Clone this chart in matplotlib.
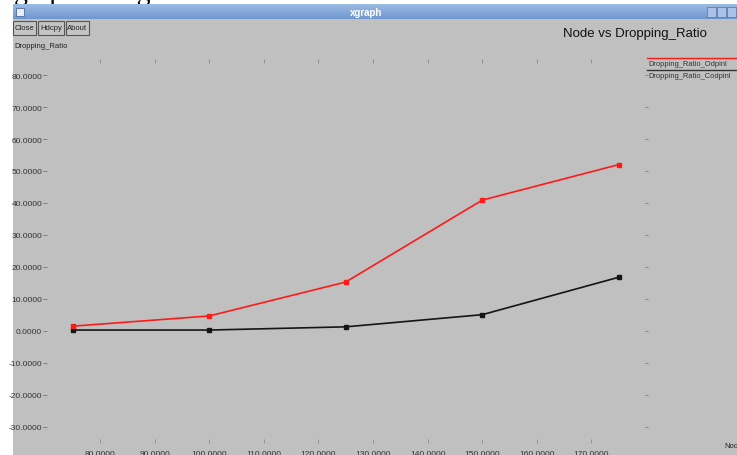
import matplotlib
matplotlib.use("Agg")
import matplotlib.pyplot as plt
from matplotlib.patches import Rectangle
from matplotlib.lines import Line2D
import numpy as np

# ---- data ----
nodes = [75, 100, 125, 150, 175]
ratio_odpinl = [1.5, 4.7, 15.3, 40.9, 52.0]
ratio_codpinl = [0.3, 0.3, 1.3, 5.1, 16.8]
series_names = ["Dropping_Ratio_Odpinl", "Dropping_Ratio_Codpinl"]
x_ticks = [80, 90, 100, 110, 120, 130, 140, 150, 160, 170]
y_ticks = [-30, -20, -10, 0, 10, 20, 30, 40, 50, 60, 70, 80]
title = "Node vs Dropping_Ratio"
y_unit = "Dropping_Ratio"
x_unit = "Node"
buttons = ["Close", "Hdcpy", "About"]

W, H = 737, 456
FONT = ["Liberation Sans Narrow", "Liberation Sans", "DejaVu Sans"]
plt.rcParams["font.family"] = FONT

fig = plt.figure(figsize=(W / 100, H / 100), dpi=100)
fig.patch.set_facecolor("white")


def fx(px):
    return px / W


def fy(py):
    return 1 - py / H


# window body
fig.patches.append(Rectangle((fx(13), 0), 1 - fx(13), fy(20), transform=fig.transFigure,
                             facecolor="#c0c0c0", edgecolor="none", zorder=-5))

# caption text of the page, mostly above the visible strip
fig.text(fx(14), fy(0), "graph Using Code Like", family=["Liberation Serif", "DejaVu Serif"],
         fontsize=20, color="black", ha="left", va="baseline", zorder=-6)

# title bar
bar = np.linspace(0, 1, 40).reshape(-1, 1)
bar_ax = fig.add_axes([fx(13), fy(20), 1 - fx(13), fy(5) - fy(20)], zorder=10)
bar_ax.imshow(bar, aspect="auto", cmap=matplotlib.colors.LinearSegmentedColormap.from_list(
    "tb", ["#9dbbe3", "#6f97cf"]), extent=[0, 1, 0, 1], origin="upper")
bar_ax.axis("off")
bar_ax.text(fx(366 - 13) / (1 - fx(13)), 0.5, "xgraph", color="white", fontsize=7,
            fontweight="bold", ha="center", va="center", transform=bar_ax.transAxes)
fig.patches.append(Rectangle((fx(16), fy(17)), fx(8), fy(9) - fy(17), transform=fig.transFigure,
                             facecolor="#e8eef8", edgecolor="#506c9a", lw=0.6, zorder=15))
for bx in (707, 717, 727):
    fig.patches.append(Rectangle((fx(bx), fy(18)), fx(9), fy(8) - fy(18), transform=fig.transFigure,
                                 facecolor="#a9c2e6", edgecolor="#5d7fb3", lw=0.6, zorder=15))

# buttons
bpos = [(13, 36), (38, 64), (66, 89)]
for (x0, x1), label in zip(bpos, buttons):
    fig.patches.append(Rectangle((fx(x0), fy(36)), fx(x1 - x0), fy(22) - fy(36),
                                 transform=fig.transFigure, facecolor="#c4c4c4",
                                 edgecolor="#555555", lw=0.8, zorder=5))
    fig.text(fx((x0 + x1) / 2), fy(29), label, fontsize=5.5, color="#222222",
             ha="center", va="center", zorder=6)

fig.text(fx(14), fy(46), y_unit, fontsize=5.5, color="#222222", ha="left", va="center")
fig.text(fx(707), fy(34), title, fontsize=9.5, color="#111111", ha="right", va="center")
fig.text(fx(724), fy(447), x_unit, fontsize=5.5, color="#222222", ha="left", va="center")

# plot area
left, right, top, bottom = 47, 645, 60, 444
ax = fig.add_axes([fx(left), fy(bottom), fx(right - left), fy(top) - fy(bottom)], zorder=1)
ax.set_facecolor("none")
for s in ax.spines.values():
    s.set_visible(False)
ax.set_xlim(70.3, 179.8)
ax.set_ylim(-35, 85)

ax.set_xticks(x_ticks)
ax.set_xticklabels([f"{v:.4f}" for v in x_ticks])
ax.set_yticks(y_ticks)
ax.set_yticklabels([f"{v:.4f}" for v in y_ticks])
ax.tick_params(axis="x", which="both", bottom=True, top=True, direction="in", length=3,
               width=0.6, color="#888888", labelsize=6, labelcolor="#333333", pad=5)
ax.tick_params(axis="y", which="both", left=True, right=True, direction="out", length=3,
               width=0.6, color="#777777", labelsize=6, labelcolor="#333333", pad=0.5)
for t in ax.yaxis.get_major_ticks():
    t.tick2line.set_markersize(2)
    if t.get_loc() == 0:
        t.tick1line.set_color("white")
        t.tick2line.set_color("white")

ax.plot(nodes, ratio_codpinl, color="#151515", lw=1.2, marker="s", ms=2.5, zorder=3)
ax.plot(nodes, ratio_odpinl, color="#ff1a1a", lw=1.2, marker="s", ms=2.5, zorder=4)

# legend entries on the right margin
fig.lines.append(Line2D([fx(647), 1], [fy(59), fy(59)], transform=fig.transFigure,
                        color="#ff1a1a", lw=1.0))
fig.text(fx(648), fy(65), series_names[0], fontsize=5.4, color="#333333", ha="left", va="center")
fig.lines.append(Line2D([fx(647), 1], [fy(71), fy(71)], transform=fig.transFigure,
                        color="#333333", lw=1.0))
fig.text(fx(648), fy(77), series_names[1], fontsize=5.4, color="#333333", ha="left", va="center")

fig.savefig("out.png", dpi=100, facecolor=fig.get_facecolor())
